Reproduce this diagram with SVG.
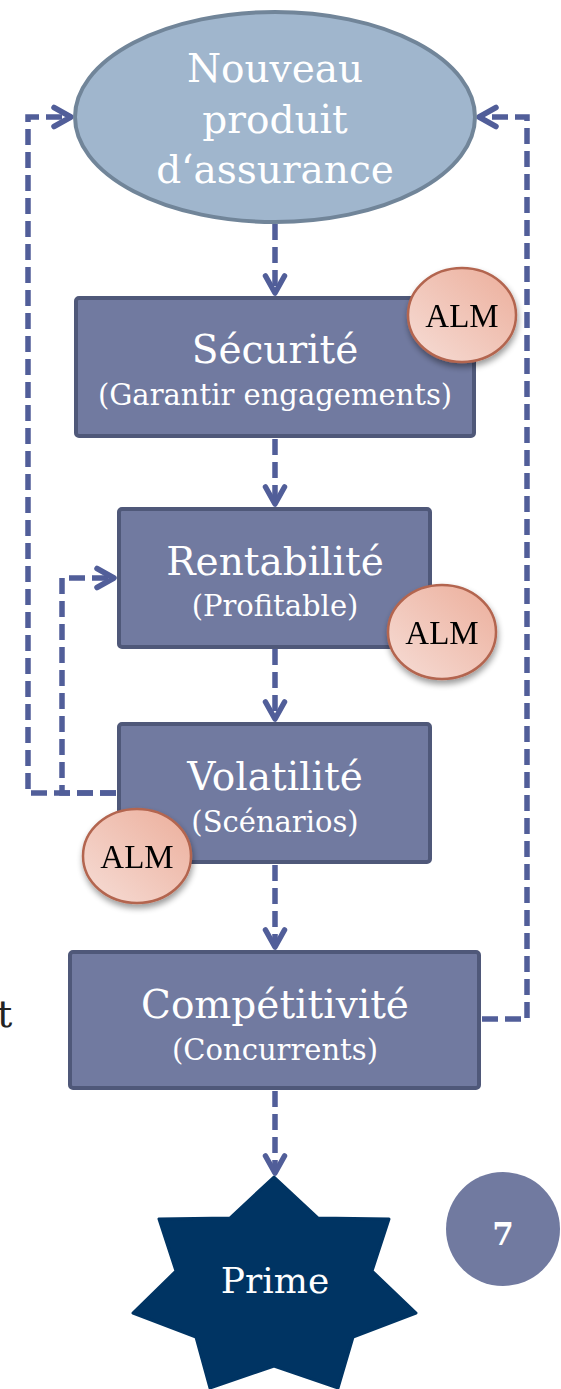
<svg xmlns="http://www.w3.org/2000/svg" width="561" height="1389" viewBox="0 0 561 1389">
<style>
.box{fill:#717AA0;stroke:#4F5879;stroke-width:4}
.t{font-family:"DejaVu Serif","Liberation Serif",serif;fill:#fff;text-anchor:middle}
.alm{fill:url(#pink);stroke:#B3654F;stroke-width:2.5}
.almt{font-family:"Liberation Serif","Times New Roman",serif;font-size:33px;fill:#000;text-anchor:middle}
.c{fill:none;stroke:#515E99;stroke-width:5.5;stroke-dasharray:16 7}
</style>
<defs>
<linearGradient id="pink" x1="0" y1="1" x2="1" y2="0">
<stop offset="0" stop-color="#F6DDD6"/>
<stop offset="1" stop-color="#ECAE9B"/>
</linearGradient>
<filter id="sh" x="-20%" y="-20%" width="150%" height="150%">
<feGaussianBlur in="SourceAlpha" stdDeviation="3"/>
<feOffset dx="1" dy="4"/>
<feComponentTransfer><feFuncA type="linear" slope="0.4"/></feComponentTransfer>
<feMerge><feMergeNode/><feMergeNode in="SourceGraphic"/></feMerge>
</filter>
<marker id="ah" markerUnits="userSpaceOnUse" viewBox="-22 -14 25 28" refX="0" refY="0" markerWidth="25" markerHeight="28" orient="auto">
<path d="M-17,-9.5 L0,0 L-17,9.5" fill="none" stroke="#515E99" stroke-width="5.5" stroke-linecap="round" stroke-linejoin="round"/>
</marker>
</defs>

<g id="connectors">
<path class="c" d="M275,224 V293" marker-end="url(#ah)"/>
<path class="c" d="M275,439 V504" marker-end="url(#ah)"/>
<path class="c" d="M275,649 V719" marker-end="url(#ah)"/>
<path class="c" d="M275,865 V947" marker-end="url(#ah)"/>
<path class="c" d="M275,1091 V1173" marker-end="url(#ah)"/>
<path class="c" d="M116,793 H28 V117 H71" marker-end="url(#ah)"/>
<path class="c" d="M116,793 H62 V578 H114" marker-end="url(#ah)"/>
<path class="c" d="M482,1019 H527 V117 H479" marker-end="url(#ah)"/>
</g>

<g id="nouveau">
<ellipse cx="275" cy="117" rx="200" ry="105" fill="#A0B6CD" stroke="#718599" stroke-width="4"/>
<text class="t" font-size="39" x="275" y="82">Nouveau</text>
<text class="t" font-size="39" x="275" y="133">produit</text>
<text class="t" font-size="39" x="275" y="183">d‘assurance</text>
</g>

<g id="securite">
<rect class="box" x="76" y="298" width="398" height="138" rx="3"/>
<text class="t" font-size="39" x="275" y="363">Sécurité</text>
<text class="t" font-size="29" x="275" y="405">(Garantir engagements)</text>
</g>

<g id="rentabilite">
<rect class="box" x="119" y="509" width="311" height="138" rx="3"/>
<text class="t" font-size="39" x="275" y="575">Rentabilité</text>
<text class="t" font-size="29" x="275" y="616">(Profitable)</text>
</g>

<g id="volatilite">
<rect class="box" x="119" y="724" width="311" height="138" rx="3"/>
<text class="t" font-size="39" x="275" y="790">Volatilité</text>
<text class="t" font-size="29" x="275" y="832">(Scénarios)</text>
</g>

<g id="competitivite">
<rect class="box" x="70" y="952" width="409" height="136" rx="3"/>
<text class="t" font-size="39" x="275" y="1018">Compétitivité</text>
<text class="t" font-size="29" x="275" y="1060">(Concurrents)</text>
</g>

<g id="alm1" filter="url(#sh)">
<ellipse class="alm" cx="462" cy="315" rx="54" ry="47"/>
<text class="almt" x="462" y="327">ALM</text>
</g>
<g id="alm2" filter="url(#sh)">
<ellipse class="alm" cx="442" cy="632" rx="54" ry="47"/>
<text class="almt" x="442" y="644">ALM</text>
</g>
<g id="alm3" filter="url(#sh)">
<ellipse class="alm" cx="137" cy="856" rx="54" ry="47"/>
<text class="almt" x="137" y="868">ALM</text>
</g>

<g id="prime">
<polygon fill="#003463" stroke="#003463" stroke-width="3" stroke-linejoin="round" points="274,1177 318,1218 389,1219 372,1271 416,1313 353,1337 338,1388 274,1366 210,1388 196,1337 133,1313 176,1271 159,1219 230,1218"/>
<text class="t" font-size="36" x="275" y="1293">Prime</text>
</g>

<g id="page">
<circle cx="503" cy="1229" r="57" fill="#717AA0"/>
<text x="503" y="1245" font-family="DejaVu Serif, serif" font-weight="bold" font-size="31" fill="#fff" text-anchor="middle">7</text>
</g>

<text x="-3" y="1027" font-family="DejaVu Serif, serif" font-size="38" fill="#222">t</text>
</svg>
